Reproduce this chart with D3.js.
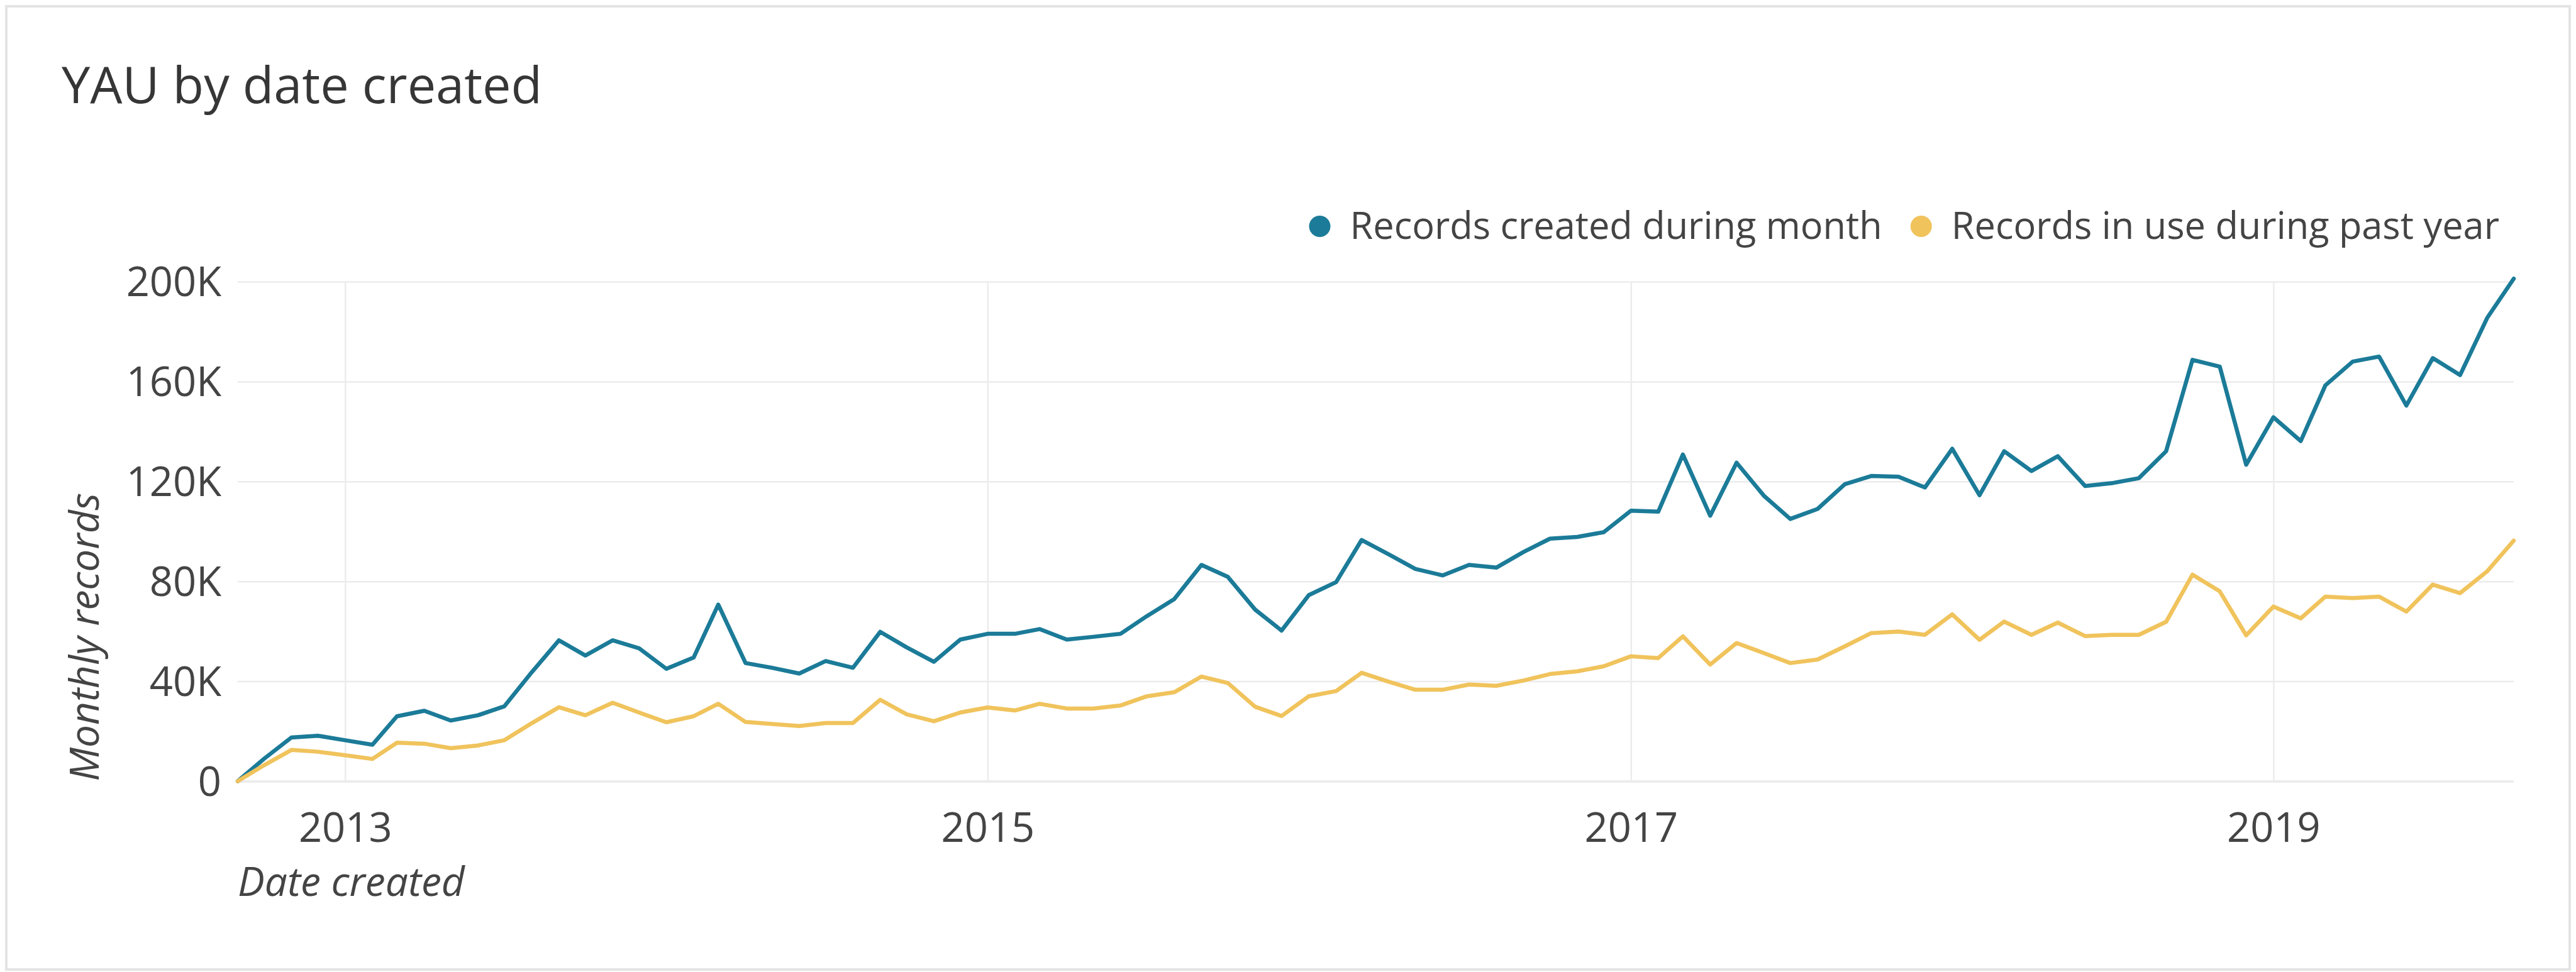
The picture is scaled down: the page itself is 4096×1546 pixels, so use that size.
<!DOCTYPE html>
<html>
<head>
<meta charset="utf-8">
<script src="https://cdn.jsdelivr.net/npm/d3@7"></script>
<style>
  html, body { margin: 0; padding: 0; background: #ffffff; }
  svg { display: block; }
  text { font-family: "Open Sans", "Noto Sans", sans-serif; }
</style>
</head>
<body>
<svg id="chart" width="4096" height="1546"></svg>
<script>
// ---- data (values in thousands of records, one per month) ----
const startMonth = "2012-09-01";
const endMonth = "2019-10-01";
const seriesNames = ["Records created during month", "Records in use during past year"];
const seriesColors = ["#1b7b98", "#f0c35c"];
const createdK = [
  0, 9, 17.5, 18.2, 16.4, 14.6, 26, 28.2, 24.3, 26.4, 30, 43.6,
  56.4, 50.3, 56.4, 53.2, 45, 49.5, 70.7, 47.3, 45.4, 43.1, 48.1, 45.4,
  59.8, 53.6, 47.8, 56.7, 59, 59, 60.9, 56.7, 57.8, 59, 66.1, 72.9,
  86.6, 81.8, 68.7, 60.3, 74.5, 79.7, 96.6, 90.8, 85, 82.4, 86.6, 85.5,
  91.8, 97.1, 97.8, 99.7, 108.3, 107.9, 130.8, 106.3, 127.5, 114.3, 105, 109,
  118.9, 122.2, 121.9, 117.6, 133.1, 114.5, 132.1, 124.2, 130.1, 118.2, 119.3, 121.3,
  132.1, 168.7, 166, 126.7, 145.7, 136.2, 158.5, 168, 170, 150.4, 169.4, 162.6,
  185.6, 201.2
];
const inUseK = [
  0, 6.4, 12.5, 11.8, 10.4, 8.9, 15.4, 15, 13.2, 14.3, 16.4, 23.2,
  29.6, 26.4, 31.4, 27.5, 23.6, 26, 31, 23.7, 22.9, 22.1, 23.3, 23.3,
  32.6, 26.8, 24, 27.5, 29.5, 28.3, 31, 29.1, 29.1, 30.3, 34, 35.6,
  41.9, 39.3, 29.8, 26.1, 34, 36.1, 43.4, 39.8, 36.6, 36.6, 38.7, 38.2,
  40.3, 42.9, 44, 46, 50, 49.3, 58, 46.7, 55.3, 51.3, 47.3, 48.7,
  54, 59.3, 59.9, 58.6, 66.8, 56.6, 63.9, 58.6, 63.5, 58.1, 58.6, 58.6,
  63.8, 82.7, 76, 58.4, 69.9, 65.2, 73.9, 73.3, 73.9, 67.9, 78.7, 75.3,
  84.1, 96.3
];
const yTicks = [0, 40000, 80000, 120000, 160000, 200000];
const yTickLabels = ["0", "40K", "80K", "120K", "160K", "200K"];
const xTickYears = ["2013-01-01", "2015-01-01", "2017-01-01", "2019-01-01"];
const xTickLabels = ["2013", "2015", "2017", "2019"];
const titleText = "YAU by date created";
const yTitle = "Monthly records";
const xTitle = "Date created";

// ---- layout ----
const svg = d3.select("#chart");
const W = 4096, H = 1546;
const plot = { left: 378, right: 3997, top: 448, bottom: 1242.5 };

const parse = d3.utcParse("%Y-%m-%d");
const t0 = parse(startMonth), t1 = parse(endMonth);
const months = d3.utcMonth.range(t0, d3.utcMonth.offset(t1, 1));

const x = d3.scaleUtc().domain([t0, t1]).range([plot.left, plot.right]);
const y = d3.scaleLinear().domain([0, 200000]).range([plot.bottom, plot.top]);

// card
svg.append("rect")
  .attr("x", 10).attr("y", 10).attr("width", W - 20).attr("height", H - 14)
  .attr("fill", "#ffffff").attr("stroke", "#e4e4e4").attr("stroke-width", 4);

// title
svg.append("text")
  .attr("x", 98).attr("y", 164)
  .attr("font-size", 81).attr("fill", "#363636")
  .text(titleText);

// horizontal gridlines via axis
const yAxis = d3.axisLeft(y).tickValues(yTicks)
  .tickFormat((d, i) => yTickLabels[i])
  .tickSize(-(plot.right - plot.left)).tickPadding(26);
const gy = svg.append("g").attr("transform", `translate(${plot.left},0)`).call(yAxis);
gy.select(".domain").remove();
gy.selectAll(".tick line").attr("stroke", "#ececec").attr("stroke-width", (d) => d === 0 ? 4 : 2.5);
gy.selectAll(".tick text").attr("font-size", 65).attr("fill", "#444")
  .attr("font-family", "'Open Sans', sans-serif").attr("dy", "0.35em");

// vertical gridlines via axis
const xAxis = d3.axisBottom(x).tickValues(xTickYears.map(parse))
  .tickFormat((d, i) => xTickLabels[i])
  .tickSize(-(plot.bottom - plot.top)).tickPadding(0);
const gx = svg.append("g").attr("transform", `translate(0,${plot.bottom})`).call(xAxis);
gx.select(".domain").remove();
gx.selectAll(".tick line").attr("stroke", "#ececec").attr("stroke-width", 2.5);
gx.selectAll(".tick text").attr("font-size", 65).attr("fill", "#444")
  .attr("font-family", "'Open Sans', sans-serif")
  .attr("y", 0).attr("dy", 0).attr("transform", "translate(0,96)");

// redraw zero line on top of vertical gridlines
gy.raise();

// axis titles
svg.append("text")
  .attr("transform", `translate(157,${plot.bottom}) rotate(-90)`)
  .attr("text-anchor", "start").attr("font-size", 64).attr("font-style", "italic")
  .attr("fill", "#444").text(yTitle);
svg.append("text")
  .attr("x", plot.left).attr("y", 1425)
  .attr("font-size", 64).attr("font-style", "italic")
  .attr("fill", "#444").text(xTitle);

// lines
const seriesData = [createdK, inUseK];
const line = d3.line().x((d, i) => x(months[i])).y(d => y(d * 1000));
seriesData.forEach((vals, k) => {
  svg.append("path").datum(vals)
    .attr("d", line)
    .attr("fill", "none")
    .attr("stroke", seriesColors[k])
    .attr("stroke-width", 6.5)
    .attr("stroke-linejoin", "round")
    .attr("stroke-linecap", "round");
});

// legend (right aligned)
const legend = svg.append("g");
const legendRight = 3974, legendBase = 380, dotGap = 48, itemGap = 62, dotR = 17;
let cursor = legendRight;
for (let k = seriesNames.length - 1; k >= 0; k--) {
  const t = legend.append("text")
    .attr("y", legendBase).attr("font-size", 59.5).attr("fill", "#444")
    .text(seriesNames[k]);
  const w = t.node().getComputedTextLength();
  t.attr("x", cursor - w);
  legend.append("circle")
    .attr("cx", cursor - w - dotGap).attr("cy", legendBase - 20).attr("r", dotR)
    .attr("fill", seriesColors[k]);
  cursor = cursor - w - dotGap - itemGap;
}
</script>
</body>
</html>
